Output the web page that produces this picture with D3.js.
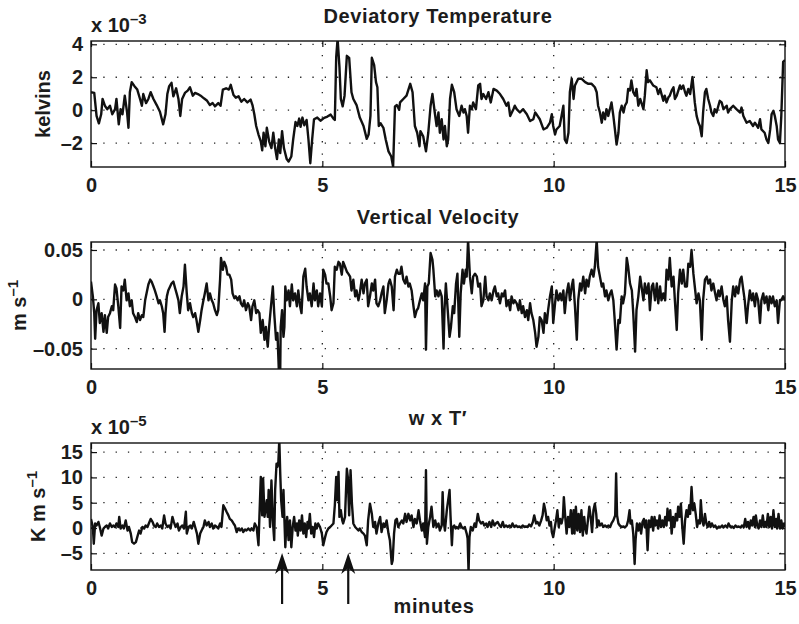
<!DOCTYPE html>
<html>
<head>
<meta charset="utf-8">
<script src="https://cdn.jsdelivr.net/npm/d3@7"></script>
<style>
    body { margin: 0; background: #fff; }
    svg { display: block; }
    text { font-family: "Liberation Sans", Arial, Helvetica, sans-serif; font-weight: bold; fill: #1c1c1c; }
</style>
</head>
<body>
<div id="chart"></div>
<script>
// time axis, minutes
var minuteTicks = [0, 5, 10, 15];

// deviatory temperature, units of 1e-3 K
var tempTicks = [-2, 0, 2, 4];
var tempMinutes = [
    0.00,0.07,0.12,0.17,0.22,0.25,0.30,0.35,0.41,0.46,
    0.52,0.55,0.60,0.64,0.68,0.73,0.78,0.81,0.84,0.88,
    0.94,1.00,1.06,1.10,1.13,1.19,1.24,1.29,1.35,1.42,
    1.49,1.56,1.61,1.65,1.69,1.74,1.78,1.84,1.89,1.93,
    1.97,2.03,2.09,2.14,2.20,2.25,2.31,2.37,2.44,2.51,
    2.57,2.63,2.68,2.75,2.80,2.85,2.92,2.98,3.02,3.08,
    3.13,3.19,3.25,3.31,3.38,3.45,3.49,3.53,3.57,3.62,
    3.67,3.70,3.73,3.77,3.80,3.85,3.90,3.94,3.98,4.02,
    4.06,4.09,4.13,4.17,4.23,4.27,4.33,4.37,4.42,4.46,
    4.50,4.53,4.57,4.61,4.66,4.70,4.74,4.78,4.82,4.89,
    4.96,5.04,5.11,5.18,5.24,5.27,5.30,5.33,5.37,5.40,
    5.44,5.48,5.53,5.58,5.63,5.67,5.74,5.81,5.89,5.96,
    6.00,6.04,6.07,6.12,6.16,6.19,6.22,6.26,6.32,6.37,
    6.43,6.49,6.53,6.57,6.61,6.66,
    6.68,6.75,6.82,6.90,6.95,7.00,7.05,7.10,7.12,7.18,
    7.24,7.29,7.34,7.38,7.43,7.47,7.51,7.54,7.58,7.62,
    7.65,7.69,7.72,7.76,7.80,7.85,7.90,7.96,8.01,8.05,
    8.08,8.12,8.15,8.19,8.23,8.26,8.32,8.37,8.41,8.44,
    8.48,8.54,8.59,8.64,8.70,8.77,8.84,8.91,8.98,9.02,
    9.06,9.13,9.16,9.20,9.27,9.34,9.42,9.49,9.56,9.60,
    9.63,9.70,9.78,9.85,9.92,9.96,9.99,10.03,10.06,10.13,
    10.17,10.21,10.24,10.28,10.32,10.35,10.39,10.43,10.46,10.53,
    10.60,10.68,10.75,10.82,10.89,10.93,10.96,11.00,11.04,11.07,
    11.11,11.14,11.18,11.25,11.29,11.32,11.36,11.40,11.43,11.47,
    11.51,11.54,11.58,11.61,11.65,11.68,11.72,11.76,11.79,11.83,
    11.87,11.94,11.97,12.01,12.04,12.08,12.15,12.22,12.26,12.30,
    12.37,12.40,12.44,12.48,12.51,12.55,12.59,12.62,12.66,12.73,
    12.76,12.80,12.84,12.87,12.91,12.95,13.00,13.05,13.09,13.13,
    13.16,13.20,13.23,13.27,13.30,13.34,13.38,13.41,13.45,13.48,
    13.52,13.56,13.59,13.63,13.67,13.74,13.77,13.81,13.88,13.95,
    14.03,14.06,14.10,14.17,14.24,14.31,14.35,14.42,14.46,14.49,
    14.56,14.60,14.64,14.68,14.71,14.75,14.78,14.82,14.85,14.89,
    14.92,14.96,15.00
];
var tempValues = [
    1.09,1.05,-0.35,-0.80,-0.25,0.68,0.27,0.06,0.27,-0.25,
    0.06,0.68,-0.86,0.06,-0.25,0.88,-0.14,-1.07,1.09,1.70,
    1.46,1.25,0.68,0.27,0.98,0.43,0.68,1.09,0.68,0.31,
    -0.10,-0.86,-0.25,0.98,1.46,1.66,0.84,1.33,0.68,-0.35,
    0.68,1.05,1.19,1.39,0.88,1.05,0.98,0.88,0.72,0.57,
    0.31,0.43,0.23,0.43,0.27,1.25,1.33,1.25,1.54,0.92,
    0.76,0.84,0.51,0.68,0.47,0.64,0.31,-0.25,-0.96,-1.48,
    -1.89,-2.44,-1.37,-2.19,-1.07,-1.89,-2.30,-1.37,-2.30,-2.97,
    -1.78,-2.61,-1.27,-2.30,-2.97,-3.12,-2.81,-1.78,-0.72,-0.96,
    -0.51,-1.01,-0.45,-0.92,-0.59,-1.78,-3.22,-1.78,-0.55,-0.45,
    -0.64,-0.47,-0.39,-0.27,-0.51,-0.59,3.24,4.33,2.63,0.68,
    0.23,0.88,3.30,3.18,1.09,0.68,0.31,-0.45,-0.96,-1.74,
    -1.48,-0.35,3.18,2.73,1.70,1.39,-0.96,-0.80,-1.07,-1.78,
    -2.50,-2.81,-3.43,0.23,0.31,0.02,
    0.47,0.68,0.88,1.60,1.09,-0.96,-1.37,-2.19,-1.27,-1.58,
    -2.50,-1.37,0.27,0.98,-0.14,-0.96,-0.14,-1.37,-0.55,-1.78,
    -0.96,-2.19,-1.78,0.68,1.54,1.09,0.06,-0.35,0.27,-0.14,
    0.06,-0.35,-1.37,0.27,0.06,0.47,0.06,1.50,1.60,0.68,
    0.98,0.68,1.09,0.47,1.29,1.19,0.98,0.68,0.27,0.47,
    -0.35,0.06,0.27,0.06,-0.14,0.06,-0.25,-0.66,-0.55,-0.14,
    -0.25,-0.55,-1.17,-1.07,-0.76,-0.25,-0.96,-1.48,-1.17,-0.96,
    -0.35,0.27,-1.78,-1.99,-1.37,1.09,1.91,0.68,1.50,1.91,
    1.91,1.70,1.60,1.60,1.39,1.09,0.27,-0.14,-0.76,-0.14,
    -0.55,0.06,-0.35,0.47,-0.35,-1.07,-2.09,-1.37,-0.14,0.27,
    -0.14,0.27,0.47,1.29,1.19,1.81,1.09,0.88,1.29,0.27,
    0.68,0.06,0.88,2.42,1.70,1.81,1.50,1.39,0.98,1.29,
    0.57,0.88,0.47,0.78,0.88,1.19,1.39,0.68,0.88,1.50,
    1.29,1.50,1.09,0.88,1.29,0.98,2.01,0.47,-0.35,-0.76,
    -0.96,-1.58,-0.14,1.09,1.29,0.68,0.27,-0.14,-0.35,0.06,
    -0.14,0.27,0.57,0.47,0.06,0.27,-0.14,0.06,0.27,0.06,
    -0.14,0.16,-0.35,-0.76,-0.66,-0.96,-0.76,-1.07,-0.55,-1.17,
    -1.37,-1.78,-1.99,-1.17,-0.25,-0.04,-0.35,-0.96,-1.78,-1.99,
    -0.35,2.93,3.04
];

// vertical velocity, m/s
var velTicks = [-0.05, 0, 0.05];
var velMinutes = [
    0.00,0.04,0.07,0.09,0.12,0.16,0.19,0.23,0.27,0.30,
    0.34,0.37,0.41,0.45,0.48,0.52,0.55,0.59,0.63,0.66,
    0.70,0.73,0.77,0.81,0.84,0.88,0.91,0.95,0.99,1.02,
    1.06,1.10,1.13,1.17,1.20,1.24,1.28,1.31,1.35,1.38,
    1.42,1.46,1.49,1.53,1.56,1.59,1.61,1.64,1.67,1.71,
    1.74,1.78,1.82,1.85,1.89,1.92,1.96,2.00,2.03,2.07,
    2.10,2.14,2.18,2.21,2.25,2.28,2.32,2.36,2.39,2.43,
    2.46,2.50,2.54,2.57,2.61,2.64,2.68,2.72,2.75,2.79,
    2.81,2.85,2.88,2.92,2.95,2.99,3.03,3.06,3.10,3.13,
    3.17,3.21,3.24,3.28,3.31,3.35,3.39,3.42,3.46,3.49,
    3.53,3.57,3.60,3.64,3.67,3.71,3.75,3.78,3.82,3.85,
    3.89,3.93,3.96,4.00,4.03,4.06,4.09,4.10,4.13,4.16,
    4.18,4.20,4.23,4.27,4.30,4.34,4.37,4.41,4.45,4.48,
    4.52,4.55,4.59,4.63,4.66,4.70,4.73,4.77,4.81,4.84,
    4.88,4.91,4.95,4.99,5.02,5.06,5.09,5.13,5.17,5.20,
    5.24,5.27,5.31,5.35,5.38,5.42,5.45,5.49,5.53,5.56,
    5.60,5.63,5.67,5.71,5.74,5.78,5.81,5.85,5.89,5.92,
    5.96,5.99,6.03,6.07,6.10,6.14,6.17,6.21,6.25,6.28,
    6.32,6.35,6.39,6.43,6.46,6.50,6.54,6.57,6.61,6.64,
    6.68,6.71,6.75,6.79,6.82,6.86,6.89,6.93,6.97,7.00,
    7.04,7.07,7.11,7.15,7.18,7.22,7.24,7.27,7.30,7.34,
    7.38,7.40,7.44,7.47,7.51,7.54,7.58,7.62,7.64,7.67,
    7.71,7.75,7.78,7.82,7.85,7.89,7.92,7.96,7.99,8.03,
    8.06,8.10,8.12,8.15,8.19,8.23,8.26,8.30,8.34,8.37,
    8.41,8.44,8.48,8.52,8.55,8.59,8.62,8.66,8.70,8.73,
    8.77,8.80,8.84,8.88,8.91,8.95,8.98,9.02,9.06,9.09,
    9.13,9.16,9.20,9.24,9.27,9.31,9.34,9.38,9.42,9.45,
    9.49,9.52,9.56,9.60,9.63,9.67,9.70,9.74,9.78,9.81,
    9.85,9.88,9.92,9.96,9.99,10.03,10.06,10.10,10.14,10.17,
    10.21,10.24,10.28,10.32,10.35,10.39,10.42,10.46,10.50,10.53,
    10.57,10.60,10.64,10.68,10.71,10.75,10.78,10.82,10.86,10.89,
    10.93,10.96,11.00,11.04,11.07,11.11,11.14,11.18,11.22,11.25,
    11.29,11.32,11.36,11.40,11.43,11.47,11.50,11.54,11.58,11.61,
    11.65,11.69,11.72,11.76,11.79,11.83,11.87,11.90,11.94,11.97,
    12.01,12.05,12.08,12.12,12.15,12.19,12.23,12.26,12.30,12.33,
    12.37,12.41,12.44,12.48,12.51,12.55,12.59,12.62,12.66,12.69,
    12.73,12.77,12.80,12.84,12.88,12.91,12.95,12.98,13.02,13.05,
    13.09,13.13,13.16,13.20,13.23,13.27,13.31,13.34,13.38,13.41,
    13.45,13.49,13.52,13.56,13.59,13.63,13.67,13.70,13.74,13.77,
    13.81,13.85,13.88,13.92,13.95,13.99,14.03,14.06,14.10,14.13,
    14.17,14.20,14.24,14.28,14.31,14.35,14.38,14.42,14.46,14.49,
    14.53,14.56,14.60,14.64,14.67,14.71,14.74,14.78,14.82,14.85,
    14.89,14.92,14.96,15.00
];
var velValues = [
    0.018,0.003,-0.014,-0.040,-0.011,-0.004,-0.024,-0.014,-0.033,-0.016,
    -0.034,-0.018,-0.014,-0.007,-0.011,0.015,0.011,-0.007,-0.029,0.013,
    0.009,0.020,-0.001,0.006,-0.007,-0.001,-0.014,-0.018,-0.023,-0.014,
    -0.021,-0.016,-0.018,-0.001,0.006,0.015,0.020,0.018,0.013,0.009,
    0.003,-0.004,-0.001,-0.007,-0.014,-0.033,-0.014,0.003,0.009,0.013,
    0.016,0.018,0.011,0.006,-0.001,-0.014,0.003,0.013,0.035,0.006,
    -0.011,-0.004,-0.014,-0.018,-0.014,-0.021,-0.033,-0.021,-0.011,-0.001,
    0.006,0.016,-0.001,0.006,-0.001,-0.004,-0.011,-0.016,-0.011,0.020,
    0.042,0.030,0.038,0.033,0.025,0.025,0.020,0.006,0.001,0.003,
    -0.001,0.003,-0.004,-0.007,-0.001,-0.011,-0.004,-0.007,-0.021,-0.007,
    -0.001,-0.014,-0.011,-0.014,-0.034,-0.021,-0.041,-0.028,-0.048,-0.028,
    -0.007,0.013,-0.014,-0.041,-0.034,-0.072,-0.072,-0.028,-0.011,-0.038,
    -0.028,0.013,-0.001,0.009,-0.007,0.015,-0.001,0.006,-0.007,0.009,
    -0.007,-0.014,0.023,0.031,0.013,-0.001,0.006,-0.007,0.016,-0.001,
    0.009,-0.007,0.006,-0.007,0.030,0.025,0.016,0.016,0.003,-0.011,
    -0.004,0.033,0.030,0.038,0.036,0.025,0.038,0.033,0.028,0.026,
    0.023,0.009,0.020,0.003,0.009,-0.001,0.006,0.020,0.006,0.016,
    0.020,-0.007,0.003,0.016,0.009,0.020,-0.004,-0.007,-0.001,0.006,
    0.013,-0.014,-0.001,0.016,0.020,0.013,-0.011,0.023,0.030,0.026,
    0.026,0.033,0.020,0.016,0.023,0.013,0.016,0.009,-0.007,-0.018,
    -0.011,-0.009,-0.001,0.006,-0.001,0.016,-0.051,0.013,0.016,0.047,
    0.040,0.030,0.003,0.009,0.003,0.009,0.003,-0.050,-0.011,0.016,
    -0.011,-0.038,-0.028,-0.007,-0.014,0.016,0.026,-0.038,0.006,0.030,
    0.016,0.030,0.023,0.060,0.023,0.006,0.023,0.026,0.023,0.013,
    0.016,-0.007,-0.001,0.023,0.003,-0.001,0.006,-0.001,0.009,0.013,
    0.003,0.006,-0.004,0.006,0.003,0.009,-0.007,-0.001,-0.011,0.003,
    -0.004,-0.001,-0.004,-0.011,-0.001,-0.014,-0.007,-0.018,-0.011,-0.021,
    -0.004,-0.014,-0.021,-0.034,-0.048,-0.038,-0.018,-0.021,-0.034,-0.014,
    -0.024,-0.011,0.003,0.013,-0.024,-0.004,0.009,-0.001,0.006,-0.001,
    0.009,-0.014,0.006,0.016,-0.001,0.013,0.020,-0.007,-0.041,-0.001,
    0.016,0.009,0.023,0.006,0.020,0.013,0.023,0.030,0.023,0.033,
    0.060,0.033,0.023,0.013,0.016,0.003,0.009,-0.001,0.006,0.009,
    -0.001,-0.021,-0.051,-0.021,-0.024,0.003,-0.004,0.006,0.042,0.033,
    0.016,0.009,-0.014,-0.053,-0.011,0.003,0.023,0.013,-0.001,0.016,
    0.006,0.016,-0.011,0.013,0.016,-0.001,0.016,-0.004,0.013,-0.001,
    0.006,-0.001,0.030,0.020,0.042,0.013,0.023,-0.001,-0.031,0.006,
    0.030,0.016,0.030,0.013,0.013,0.036,0.033,0.050,0.026,0.013,
    -0.004,0.006,-0.001,-0.041,-0.001,0.020,0.023,0.016,0.020,0.009,
    0.016,0.006,-0.001,0.009,0.003,0.013,-0.001,-0.007,0.003,-0.021,
    -0.043,-0.001,0.013,0.003,0.013,0.006,0.020,0.023,0.009,-0.001,
    -0.024,-0.007,0.009,-0.001,0.006,-0.007,0.006,-0.001,-0.024,-0.001,
    0.006,-0.004,0.003,-0.011,0.003,-0.004,0.003,-0.007,-0.001,-0.024,
    -0.001,-0.001,0.003,-0.001
];

// heat flux w x T', units of 1e-5 K m/s
var fluxTicks = [-5, 0, 5, 10, 15];
var fluxMinutes = [
    0.00,0.04,0.06,0.09,0.12,0.16,0.19,0.23,0.27,0.30,
    0.34,0.37,0.41,0.45,0.48,0.52,0.55,0.59,0.61,0.64,
    0.68,0.71,0.75,0.79,0.82,0.86,0.89,0.93,0.97,1.00,
    1.04,1.07,1.11,1.15,1.18,1.22,1.25,1.29,1.33,1.36,
    1.40,1.43,1.47,1.51,1.54,1.58,1.61,1.65,1.69,1.72,
    1.76,1.79,1.83,1.87,1.90,1.94,1.97,2.01,2.05,2.07,
    2.11,2.15,2.18,2.22,2.26,2.29,2.32,2.36,2.39,2.43,
    2.46,2.50,2.54,2.57,2.61,2.64,2.68,2.72,2.75,2.79,
    2.82,2.86,2.90,2.93,2.97,3.00,3.04,3.08,3.11,3.15,
    3.18,3.22,3.26,3.29,3.33,3.36,3.40,3.44,3.47,3.51,
    3.54,3.58,3.62,3.64,3.67,3.70,3.72,3.75,3.78,3.80,
    3.82,3.84,3.87,3.90,3.93,3.96,3.98,4.01,4.03,4.05,
    4.07,4.09,4.11,4.14,4.16,4.18,4.20,4.22,4.24,4.27,
    4.30,4.33,4.36,4.39,4.42,4.45,4.47,4.50,4.53,4.56,
    4.59,4.62,4.65,4.68,4.70,4.73,4.76,4.79,4.82,4.85,
    4.88,4.91,4.95,4.99,5.02,5.06,5.09,5.13,5.17,5.20,
    5.24,5.27,5.30,5.32,5.35,5.37,5.40,5.43,5.45,5.49,
    5.53,5.55,5.58,5.61,5.64,5.67,5.71,5.74,5.78,5.81,
    5.85,5.89,5.92,5.96,5.99,6.03,6.07,6.10,6.14,6.17,
    6.21,6.25,6.28,6.32,6.35,6.39,6.43,6.46,6.50,6.52,
    6.55,6.58,6.61,6.64,
    6.68,6.72,6.75,6.79,6.82,6.86,6.90,6.93,6.97,7.00,
    7.04,7.08,7.11,7.15,7.18,7.22,7.24,7.26,7.29,7.33,
    7.36,7.40,7.44,7.47,7.51,7.54,7.58,7.60,7.62,7.65,
    7.69,7.72,7.75,7.77,7.80,7.82,7.85,7.88,7.90,7.94,
    7.98,8.01,8.05,8.08,8.12,8.14,8.16,8.18,8.21,8.25,
    8.29,8.32,8.36,8.39,8.43,8.47,8.50,8.54,8.57,8.61,
    8.65,8.68,8.72,8.75,8.79,8.83,8.86,8.90,8.93,8.97,
    9.01,9.04,9.08,9.11,9.15,9.19,9.22,9.26,9.29,9.33,
    9.37,9.40,9.44,9.47,9.51,9.55,9.58,9.62,9.65,9.69,
    9.73,9.76,9.79,9.82,9.85,9.88,9.91,9.94,9.96,9.99,
    10.02,10.05,10.08,10.11,10.14,10.17,10.20,10.22,10.25,10.28,
    10.31,10.34,10.37,10.40,10.43,10.45,10.48,10.51,10.54,10.57,
    10.60,10.63,10.66,10.68,10.71,10.74,10.77,10.80,10.83,10.86,
    10.89,10.92,10.94,10.97,11.00,11.04,11.07,11.11,11.15,11.18,
    11.22,11.25,11.29,11.33,11.35,11.37,11.40,11.43,11.47,11.51,
    11.54,11.58,11.61,11.64,11.66,11.69,11.72,11.75,11.77,11.80,
    11.83,11.86,11.89,11.92,11.95,11.97,12.00,12.03,12.06,12.09,
    12.12,12.15,12.18,12.20,12.23,12.26,12.29,12.32,12.35,12.38,
    12.41,12.44,12.46,12.49,12.52,12.55,12.58,12.61,12.64,12.67,
    12.69,12.72,12.75,12.78,12.81,12.84,12.87,12.90,12.93,12.95,
    12.98,13.01,13.04,13.07,13.10,13.13,13.16,13.18,13.21,13.24,
    13.27,13.30,13.33,13.36,13.39,13.42,13.46,13.49,13.53,13.57,
    13.60,13.64,13.67,13.71,13.75,13.78,13.82,13.86,13.89,13.93,
    13.96,14.00,14.04,14.07,14.11,14.14,14.17,14.20,14.23,14.26,
    14.29,14.32,14.35,14.37,14.40,14.43,14.46,14.49,14.52,14.55,
    14.58,14.60,14.63,14.66,14.69,14.72,14.75,14.78,14.81,14.83,
    14.86,14.89,14.92,14.95,14.98,15.00
];
var fluxValues = [
    1.8,0.2,-3.1,0.9,0.5,1.2,0.2,-1.5,-0.1,0.2,
    0.5,-0.1,0.9,0.2,0.5,0.2,0.9,0.2,2.2,-0.1,
    0.5,-0.1,1.5,-0.5,0.2,-1.1,-2.8,-3.1,-2.8,-1.8,
    -0.5,-1.1,0.2,-0.1,0.5,0.2,0.9,1.8,1.2,0.5,
    0.2,0.9,0.2,0.5,-0.1,2.5,0.9,0.2,0.5,-0.1,
    2.2,1.2,0.2,0.9,-0.5,0.2,0.5,-0.1,3.2,-1.1,
    0.2,0.5,-0.1,1.2,-0.1,-1.1,-3.1,-1.1,-0.5,0.2,
    1.5,0.5,1.2,0.2,0.9,-0.1,0.5,0.2,-0.1,0.9,
    0.2,4.5,3.8,3.2,2.5,1.8,1.5,0.9,0.5,-0.8,
    -0.1,-0.5,-0.1,-0.8,-0.3,-0.5,-0.1,-0.5,-0.1,-0.5,
    0.9,0.2,-3.4,2.2,10.1,2.5,9.8,2.2,4.2,5.5,
    2.2,7.5,0.2,9.4,1.5,-2.4,7.5,12.7,12.1,13.1,
    17.5,10.8,5.5,2.2,7.5,1.8,-3.8,0.2,2.2,-2.4,
    1.5,-3.8,0.2,2.2,-0.5,0.9,-1.5,1.5,-0.5,2.5,
    -1.1,0.9,-1.8,1.2,-0.1,2.8,-1.1,0.2,-1.8,0.9,
    -0.1,0.9,0.2,-1.1,-3.4,-1.8,-0.8,-0.1,0.2,0.5,
    0.9,4.5,10.1,5.5,11.1,2.2,3.5,1.5,0.9,2.2,
    11.7,10.1,2.5,11.4,4.8,0.9,0.2,-0.1,-0.5,-0.1,
    -0.8,-1.1,-1.5,-3.4,1.5,4.8,2.8,0.2,1.2,-1.1,
    0.9,2.2,-0.8,0.9,0.2,1.5,-1.1,-2.4,-7.1,-6.4,
    -1.1,1.5,1.8,0.2,
    0.9,1.5,0.9,2.8,1.2,2.8,1.5,2.5,0.2,1.8,
    0.9,3.5,1.5,-0.5,0.9,-1.8,11.4,-3.1,0.2,2.2,
    4.2,0.2,1.5,0.2,0.9,-0.5,0.5,7.1,1.5,-0.5,
    3.5,5.5,7.5,2.5,-3.4,0.2,0.5,-0.1,0.2,-0.1,
    0.9,0.2,-0.1,0.2,-1.1,-2.1,-8.6,-1.8,0.2,-0.5,
    0.9,0.2,2.8,1.5,0.9,1.2,0.5,0.9,0.2,1.2,
    0.2,1.5,0.5,0.9,1.2,0.5,0.2,1.2,0.2,0.5,
    0.2,0.5,0.2,0.9,0.2,0.5,0.2,0.3,0.1,0.5,
    0.2,0.3,0.2,0.7,0.3,1.2,2.5,0.9,1.2,0.5,
    1.5,2.5,4.8,3.5,1.5,2.2,0.5,1.2,-0.8,-1.8,
    -0.1,1.5,3.5,0.2,1.8,0.9,2.2,6.1,2.2,-1.1,
    2.2,0.2,3.5,-1.1,3.5,-1.1,4.2,-0.5,2.8,-0.8,
    3.5,-1.5,2.2,0.2,-1.1,1.5,4.2,2.2,-0.8,3.5,
    4.8,2.8,0.2,1.5,0.5,0.9,0.2,0.5,0.2,0.5,
    0.2,0.9,1.5,2.5,10.8,2.5,0.9,0.5,0.2,0.3,
    0.1,0.5,1.5,3.5,0.9,1.5,-1.1,-7.1,-2.4,0.9,
    -0.5,0.9,-1.1,1.2,1.8,0.2,1.5,-4.4,1.5,0.2,
    2.2,-0.5,2.2,0.5,1.5,-0.1,2.5,0.2,1.5,0.2,
    2.2,0.5,3.8,1.5,3.5,-1.1,2.2,0.2,2.8,1.5,
    4.2,2.2,4.8,0.2,-3.1,1.5,3.5,2.2,4.5,2.8,
    8.1,3.5,4.8,2.8,0.2,1.5,0.9,5.5,1.5,0.5,
    2.8,0.9,0.2,1.2,0.2,0.9,0.2,0.5,-0.1,0.3,
    0.1,0.5,0.1,0.5,0.1,0.9,0.2,0.3,0.0,0.5,
    0.2,0.3,0.1,0.5,0.2,1.8,0.2,1.2,-0.1,1.5,
    0.5,2.2,0.2,2.5,0.5,-0.1,1.5,0.2,2.5,0.2,
    1.2,0.2,2.8,0.2,2.2,-0.1,3.5,0.2,1.8,-0.1,
    2.8,-0.1,1.5,-0.1,0.9,0.2
];

// the two events marked under the bottom panel
var arrowMinutes = [4.13, 5.56];

var width = 799, height = 624;
var plotLeft = 91, plotRight = 785;

var panels = [
    { title: 'Deviatory Temperature', top: 41, bottom: 167, domain: [-3.45, 4.2],
      ticks: tempTicks, times: tempMinutes, values: tempValues,
      exponent: '\u20133', label: 'kelvins', labelSup: null, labelX: 50 },
    { title: 'Vertical Velocity', top: 242, bottom: 369, domain: [-0.0706, 0.0581],
      ticks: velTicks, times: velMinutes, values: velValues,
      exponent: null, label: 'm s', labelSup: '\u20131', labelX: 26 },
    { title: 'w x T\u2032', top: 443, bottom: 570, domain: [-8.3, 16.8],
      ticks: fluxTicks, times: fluxMinutes, values: fluxValues,
      exponent: '\u20135', label: 'K m s', labelSup: '\u20131', labelX: 45 }
];

var svg = d3.select('#chart').append('svg')
    .attr('width', width)
    .attr('height', height);

var x = d3.scaleLinear().domain([0, 15]).range([plotLeft, plotRight]);

function signed(d){
    return (d < 0 ? '\u2013' : '') + Math.abs(d);
}

panels.forEach(function(p, i){
    var y = d3.scaleLinear().domain(p.domain).range([p.bottom, p.top]);
    var g = svg.append('g');

    svg.append('clipPath').attr('id', 'clip' + i)
        .append('rect')
        .attr('x', plotLeft).attr('y', p.top)
        .attr('width', plotRight - plotLeft).attr('height', p.bottom - p.top);

    // dotted grid
    g.selectAll('.hgrid').data(p.ticks).enter().append('line')
        .attr('x1', plotLeft).attr('x2', plotRight)
        .attr('y1', function(d){ return y(d); })
        .attr('y2', function(d){ return y(d); })
        .attr('stroke', '#222').attr('stroke-width', 1.3)
        .attr('stroke-dasharray', '1.3,11');
    g.selectAll('.vgrid').data(minuteTicks.slice(1, -1)).enter().append('line')
        .attr('x1', function(d){ return x(d); })
        .attr('x2', function(d){ return x(d); })
        .attr('y1', p.bottom).attr('y2', p.top)
        .attr('stroke', '#222').attr('stroke-width', 1.3)
        .attr('stroke-dasharray', '1.3,11');

    // series
    var line = d3.line()
        .x(function(d, k){ return x(p.times[k]); })
        .y(function(d){ return y(d); });
    g.append('path')
        .datum(p.values)
        .attr('clip-path', 'url(#clip' + i + ')')
        .attr('d', line)
        .attr('fill', 'none')
        .attr('stroke', '#111')
        .attr('stroke-width', 2.4)
        .attr('stroke-linejoin', 'round');

    // axes, MATLAB style inward ticks
    var left = g.append('g').attr('transform', 'translate(' + plotLeft + ',0)')
        .call(d3.axisLeft(y).tickValues(p.ticks).tickSize(-6).tickPadding(8).tickFormat(signed));
    var right = g.append('g').attr('transform', 'translate(' + plotRight + ',0)')
        .call(d3.axisRight(y).tickValues(p.ticks).tickSize(-6).tickFormat(''));
    var bottom = g.append('g').attr('transform', 'translate(0,' + p.bottom + ')')
        .call(d3.axisBottom(x).tickValues(minuteTicks).tickSize(-6).tickPadding(11).tickFormat(d3.format('d')));
    var top = g.append('g').attr('transform', 'translate(0,' + p.top + ')')
        .call(d3.axisTop(x).tickValues(minuteTicks).tickSize(-6).tickFormat(''));
    [left, right, bottom, top].forEach(function(a){
        a.select('.domain').remove();
        a.attr('font-family', null).attr('font-size', null).style('color', '#111');
        a.selectAll('line').attr('stroke-width', 1.2);
        a.selectAll('text').style('font-size', '20px');
    });

    g.append('rect')
        .attr('x', plotLeft).attr('y', p.top)
        .attr('width', plotRight - plotLeft).attr('height', p.bottom - p.top)
        .attr('fill', 'none').attr('stroke', '#111').attr('stroke-width', 1.4);

    // title
    g.append('text')
        .attr('x', (plotLeft + plotRight) / 2)
        .attr('y', p.top - 18)
        .attr('text-anchor', 'middle')
        .style('font-size', '20px')
        .style('letter-spacing', '0.6px')
        .text(p.title);

    // scale factor above the axis
    if (p.exponent) {
        var ex = g.append('text').attr('x', plotLeft).attr('y', p.top - 9.5).style('font-size', '20px');
        ex.append('tspan').text('x 10');
        ex.append('tspan').attr('dy', -8).style('font-size', '15px').text(p.exponent);
    }

    // y label
    var yl = g.append('text')
        .attr('text-anchor', 'middle')
        .attr('transform', 'translate(' + p.labelX + ',' + ((p.top + p.bottom) / 2) + ') rotate(-90)')
        .style('font-size', '20px');
    yl.append('tspan').text(p.label);
    if (p.labelSup) {
        yl.append('tspan').attr('dy', -8).style('font-size', '15px').text(p.labelSup);
    }
});

// x label
svg.append('text')
    .attr('x', 434).attr('y', 613)
    .attr('text-anchor', 'middle')
    .style('font-size', '20px')
    .style('letter-spacing', '0.6px')
    .text('minutes');

// arrows below the bottom panel
var arrows = svg.append('g').attr('fill', '#111').attr('stroke', '#111');
arrowMinutes.forEach(function(m){
    var ax = x(m);
    arrows.append('line')
        .attr('x1', ax).attr('x2', ax)
        .attr('y1', 604).attr('y2', 563)
        .attr('stroke-width', 2.2);
    arrows.append('path')
        .attr('stroke', 'none')
        .attr('d', 'M' + ax + ',553 L' + (ax + 7) + ',574 L' + ax + ',568 L' + (ax - 7) + ',574 Z');
});
</script>
</body>
</html>
